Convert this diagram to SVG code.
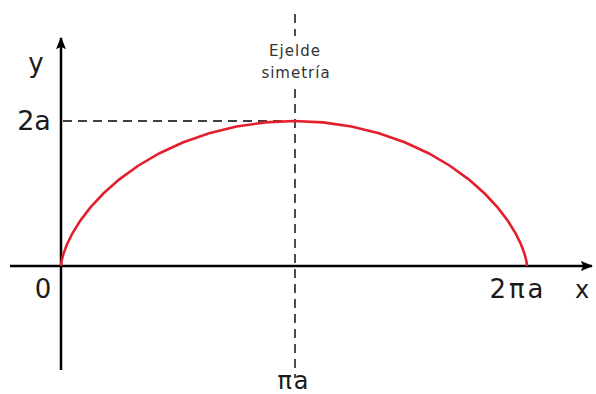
<svg xmlns="http://www.w3.org/2000/svg" width="596" height="394" viewBox="0 0 596 394">
<style>
.axis{stroke:#000;stroke-width:2.5;fill:none}
.dash{stroke:#000;stroke-width:1.4;stroke-dasharray:9,6;fill:none}
.curve{stroke:#e41f2d;stroke-width:2.6;fill:none}
.lbl{font-family:"DejaVu Sans","Liberation Sans",sans-serif;fill:#1a1a1a}
.small{font-family:"DejaVu Sans","Liberation Sans",sans-serif;fill:#333;font-size:15px;letter-spacing:1px}
</style>
<defs>
<marker id="arr" viewBox="0 0 10 10" refX="9" refY="5" markerWidth="5" markerHeight="5" orient="auto" markerUnits="strokeWidth">
<path d="M0,1 L10,5 L0,9 L2,5 Z" fill="#000"/>
</marker>
</defs>
<rect width="596" height="394" fill="#fff"/>
<g id="connectors">
<line class="dash" x1="295" y1="14" x2="295" y2="378"/>
<line class="dash" x1="63" y1="121" x2="295" y2="121"/>
<line class="axis" x1="61" y1="370" x2="61" y2="38" marker-end="url(#arr)"/>
<line class="axis" x1="10" y1="266" x2="592" y2="266" marker-end="url(#arr)"/>
</g>
<g id="curve">
<polyline class="curve" points="61,266 61.09,264.61 61.74,260.48 63.48,253.78 66.81,244.77 72.15,233.78 79.86,221.25 90.2,207.64 103.34,193.5 119.32,179.36 138.11,165.75 159.53,153.22 183.31,142.24 209.12,133.22 236.5,126.52 264.98,122.39 294,121 323.02,122.39 351.5,126.52 378.88,133.22 404.69,142.24 428.47,153.22 449.89,165.75 468.68,179.36 484.66,193.5 497.8,207.64 508.14,221.25 515.85,233.78 521.19,244.77 524.52,253.78 526.26,260.48 526.91,264.61 527,266"/>
</g>
<g id="axis-label">
<rect x="258" y="36" width="76" height="47" fill="#fff"/>
<text class="small" x="295" y="56" text-anchor="middle">Ejelde</text>
<text class="small" x="296" y="78" text-anchor="middle">simetría</text>
</g>
<g id="labels">
<text class="lbl" x="36" y="72" font-size="26" text-anchor="middle">y</text>
<text class="lbl" x="34" y="130" font-size="27" text-anchor="middle">2a</text>
<text class="lbl" x="43" y="298" font-size="26" text-anchor="middle">0</text>
<text class="lbl" x="518" y="298" font-size="26" letter-spacing="3" text-anchor="middle">2πa</text>
<text class="lbl" x="582" y="298" font-size="24" text-anchor="middle">x</text>
<text class="lbl" x="294" y="389" font-size="24" letter-spacing="2" text-anchor="middle">πa</text>
</g>
</svg>
